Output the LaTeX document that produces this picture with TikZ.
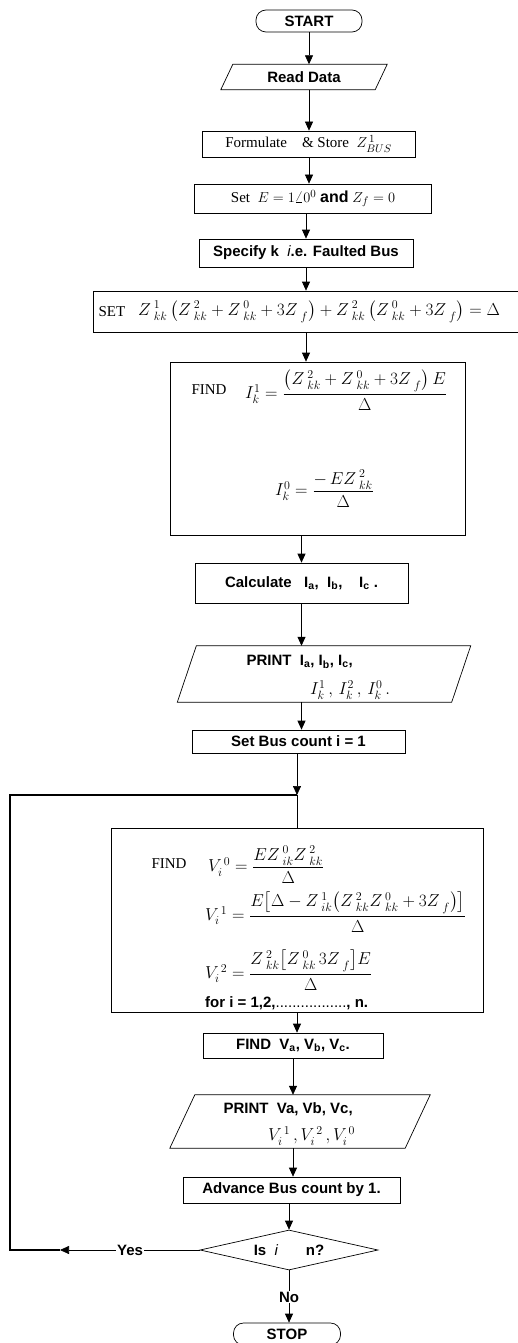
\documentclass[tikz,border=0pt]{standalone}
\usepackage{amsmath}
\usepackage{fontspec}
\setmainfont{Liberation Serif}
\setsansfont{Liberation Sans}
\usetikzlibrary{arrows.meta,shapes.geometric,calc}
\newcommand{\Zsym}[2]{Z\,{}^{#1}_{#2}}
\begin{document}
\begin{tikzpicture}[x=1pt,y=-1pt,
  bx/.style={draw,line width=0.7pt,rectangle,inner sep=0pt},
  term/.style={draw,line width=0.7pt,rectangle,rounded corners=10pt,inner sep=0pt},
  pg/.style={draw=none,rectangle,inner sep=0pt},
  sfb/.style={font=\sffamily\bfseries\fontsize{15}{17}\selectfont},
  rmt/.style={font=\rmfamily\fontsize{15}{18}\selectfont},
  mth/.style={font=\rmfamily\fontsize{16.5}{19}\selectfont,inner sep=0pt},
  arr/.style={line width=0.7pt,-{Triangle[length=9pt,width=8pt]}},
  ln/.style={line width=0.7pt},
  thk/.style={line width=1.3pt},
]
\useasboundingbox (0,0) rectangle (517,1343);
\fill[white] (0,0) rectangle (517,1343);

% top column
\node[term,sfb,minimum width=106pt,minimum height=22pt] (start) at (309,21) {START};
\node[pg,sfb,minimum width=154pt,minimum height=25pt] (read) at (304,77) {Read Data};
\draw[ln] ([xshift=-6pt]read.south west) -- ([xshift=-6pt]read.south east) -- ([xshift=6pt]read.north east) -- ([xshift=6pt]read.north west) -- cycle;
\node[bx,rmt,minimum width=213pt,minimum height=26pt] (form) at (308.5,144) {Formulate\quad\&\ Store\ \ $Z^{\,1}_{BUS}$};
\node[bx,rmt,minimum width=237pt,minimum height=29pt] (sete) at (313,198.5) {Set\ \ $E=1\angle 0^{0}$ {\sffamily\bfseries\fontsize{16}{18}\selectfont and} $Z_{f}=0$};
\node[bx,sfb,minimum width=214pt,minimum height=28pt] (spec) at (306,253) {Specify k\ \ {\mdseries\itshape i}.e. Faulted Bus};

% SET row
\node[bx,minimum width=427pt,minimum height=41pt] (setrow) at (306.5,311.5) {};
\node[rmt,anchor=west] (setlbl) at (95,311.5) {SET};
\node[mth,anchor=west] (seteq) at (138,311.5) {$\Zsym{1}{kk}\left(\Zsym{2}{kk}+\Zsym{0}{kk}+3\Zsym{}{f}\right)+\Zsym{2}{kk}\left(\Zsym{0}{kk}+3\Zsym{}{f}\right)=\Delta$};

% FIND currents
\node[bx,minimum width=295pt,minimum height=173pt] (find1) at (317.5,448.5) {};
\node[rmt,anchor=west] (findlbl) at (188,390) {FIND};
\node[mth,anchor=west] (ik1) at (245,390) {$I^{1}_{k}=\dfrac{\left(\Zsym{2}{kk}+\Zsym{0}{kk}+3\Zsym{}{f}\right)E}{\Delta}$};
\node[mth,anchor=west] (ik0) at (275,489) {$I^{0}_{k}=\dfrac{-\,E\Zsym{2}{kk}}{\Delta}$};

% calculate and print
\node[bx,sfb,minimum width=213pt,minimum height=40pt] (calc) at (301.5,583) {Calculate\ \ \ I\textsubscript{a},\ \ I\textsubscript{b},\ \ \ \ I\textsubscript{c}\ .};
\node[pg,minimum width=274pt,minimum height=56pt] (print1) at (324,674) {};
\draw[ln] ([xshift=-9.5pt]print1.south west) -- ([xshift=-9.5pt]print1.south east) -- ([xshift=9.5pt]print1.north east) -- ([xshift=9.5pt]print1.north west) -- cycle;
\node[sfb,anchor=west] (p1a) at (243,662) {PRINT\ \ I\textsubscript{a}, I\textsubscript{b}, I\textsubscript{c},};
\node[mth,anchor=west] (p1b) at (310,690) {$I^{1}_{k}\,,\,I^{2}_{k}\,,\,I^{0}_{k}\,.$};
\node[bx,sfb,minimum width=213pt,minimum height=23pt] (setbus) at (298.5,741.5) {Set Bus count i = 1};

\coordinate (junc) at (297,795);
\coordinate (loopTL) at (10,795);
\coordinate (loopBL) at (10,1250);

% FIND voltages
\node[bx,minimum width=372pt,minimum height=184pt] (findv) at (297,920) {};
\node[rmt,anchor=west] (fvlbl) at (148,864) {FIND};
\node[mth,anchor=west] (v0) at (208,865) {$V_{i}^{\,0}=\dfrac{E\Zsym{0}{ik}\Zsym{2}{kk}}{\Delta}$};
\node[mth,anchor=west] (v1) at (205,912) {$V_{i}^{\,1}=\dfrac{E\bigl[\Delta-\Zsym{1}{ik}\bigl(\Zsym{2}{kk}\Zsym{0}{kk}+3\Zsym{}{f}\bigr)\bigr]}{\Delta}$};
\node[mth,anchor=west] (v2) at (205,970) {$V_{i}^{\,2}=\dfrac{\Zsym{2}{kk}\bigl[\Zsym{0}{kk}\,3\Zsym{}{f}\bigr]E}{\Delta}$};
\node[sfb,anchor=west,inner sep=0pt] (fori) at (205,1003) {for i = 1,2,{\mdseries.................}, n.};

\node[bx,sfb,minimum width=180pt,minimum height=25pt] (findva) at (293,1045.5) {FIND\ \ V\textsubscript{a}, V\textsubscript{b}, V\textsubscript{c}.};
\node[pg,minimum width=235pt,minimum height=53pt] (printv) at (300,1121.5) {};
\draw[ln] ([xshift=-12.5pt]printv.south west) -- ([xshift=-12.5pt]printv.south east) -- ([xshift=12.5pt]printv.north east) -- ([xshift=12.5pt]printv.north west) -- cycle;
\node[sfb,anchor=west] (pva) at (220,1109) {PRINT\ \ Va, Vb, Vc,};
\node[mth,anchor=west] (pvb) at (268,1136) {$V_{i}^{\,1}\,,V_{i}^{\,2}\,,V_{i}^{\,0}$};
\node[bx,sfb,minimum width=217pt,minimum height=26pt] (advance) at (291.5,1190) {Advance Bus count by 1.};

\node[draw,line width=0.7pt,diamond,aspect=4.45,minimum width=178pt,minimum height=40pt,inner sep=0pt,sfb] (dec) at (289,1250) {Is\ \ {\mdseries\itshape i}\hspace{28pt}n?};
\node[sfb,inner sep=1pt] (yes) at (130,1250) {Yes};
\node[sfb,inner sep=1pt] (no) at (289,1297) {No};
\node[term,sfb,minimum width=107pt,minimum height=22pt] (stop) at (287,1334) {STOP};

% connectors
\draw[arr] (start.south) -- (start.south |- read.north);
\draw[arr] (start.south |- read.south) -- (start.south |- form.north);
\draw[arr] (start.south |- form.south) -- (start.south |- sete.north);
\draw[arr] (spec.north |- sete.south) -- (spec.north);
\draw[arr] (spec.south) -- (spec.south |- setrow.north);
\draw[arr] (spec.south |- setrow.south) -- (spec.south |- find1.north);
\draw[arr] (calc.north |- find1.south) -- (calc.north);
\draw[arr] (calc.south) -- (calc.south |- print1.north);
\draw[arr] (calc.south |- print1.south) -- (calc.south |- setbus.north);
\draw[arr] (junc |- setbus.south) -- (junc);
\draw[ln] (junc) -- (junc |- findv.north);
\draw[arr] (findv.south) -- (findv.south |- findva.north);
\draw[arr] (findva.south) -- (findva.south |- printv.north);
\draw[arr] (findva.south |- printv.south) -- (findva.south |- advance.north);
\draw[arr] (dec.north |- advance.south) -- (dec.north);
\draw[ln] (dec.south) -- (no.north);
\draw[arr] (no.south) -- (no.south |- stop.north);
\draw[ln] (dec.west) -- (yes.east);
\coordinate (yarr) at (60,1250);
\draw[arr] (yes.west) -- (yarr);
\draw[thk] (yarr) -- (loopBL) -- (loopTL) -- (junc);
\end{tikzpicture}
\end{document}
